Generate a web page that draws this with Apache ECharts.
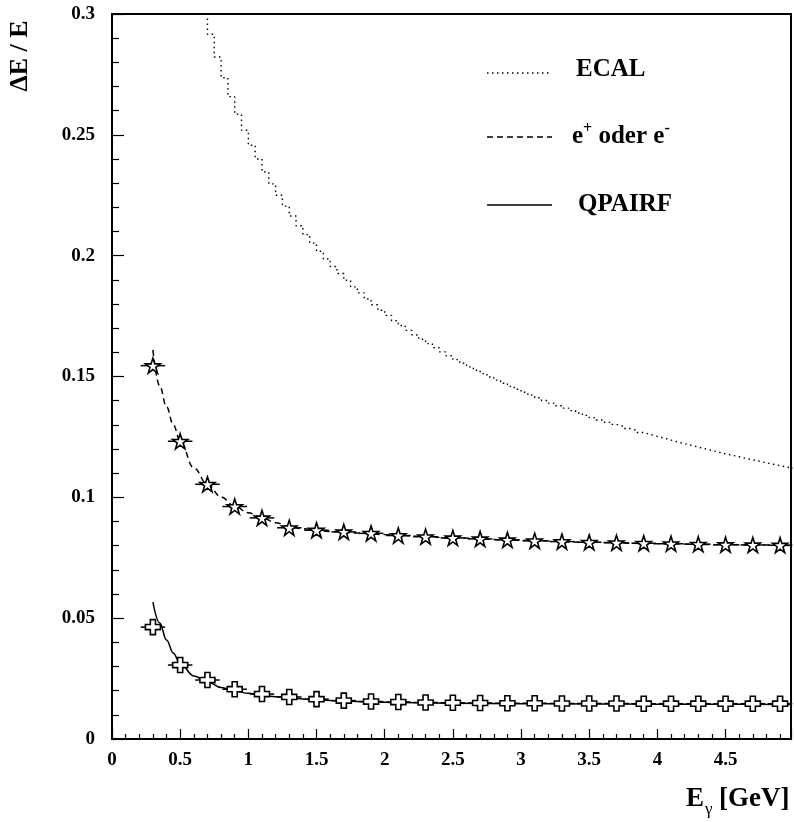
<!DOCTYPE html>
<html>
<head>
<meta charset="utf-8">
<script src="https://cdn.jsdelivr.net/npm/echarts@6/dist/echarts.min.js"></script>
<style>
html,body{margin:0;padding:0;background:#fff;}
#chart{width:794px;height:822px;}
</style>
</head>
<body>
<div id="chart"></div>
<script>
// ---------------- data ----------------
// measured points (bin centres, GeV) with horizontal half-width
var pointX = [0.3,0.5,0.7,0.9,1.1,1.3,1.5,1.7,1.9,2.1,2.3,2.5,2.7,2.9,3.1,3.3,3.5,3.7,3.9,4.1,4.3,4.5,4.7,4.9];
var pointErrX = 0.09;
// e+ oder e- (stars)
var starY = [0.1545,0.1232,0.1054,0.0962,0.0915,0.0874,0.0864,0.0857,0.0851,0.0842,0.0837,0.0832,0.0828,0.0824,0.0820,0.0817,0.0814,0.0812,0.0810,0.0808,0.0806,0.0804,0.0803,0.0802];
// QPAIRF (open crosses)
var plusY = [0.0463,0.0306,0.0244,0.0206,0.0186,0.0174,0.0165,0.0159,0.0155,0.0153,0.0151,0.0150,0.0149,0.0148,0.0148,0.0147,0.0147,0.0147,0.0146,0.0146,0.0146,0.0146,0.0146,0.0146];
// dashed fit curve (e+ oder e-)
var dashX = [0.3,0.35,0.4,0.45,0.5,0.6,0.7,0.8,0.9,1.0,1.1,1.2,1.3,1.4,1.6,1.8,2.0,2.25,2.5,3.0,3.5,4.0,4.5,4.98];
var dashY = [0.161,0.146,0.1375,0.130,0.1232,0.1122,0.1054,0.1002,0.0963,0.0936,0.0916,0.0895,0.0879,0.0870,0.0859,0.0852,0.0846,0.0839,0.0832,0.0822,0.0814,0.0808,0.0804,0.0801];
// solid fit curve (QPAIRF)
var solidX = [0.3,0.35,0.4,0.45,0.5,0.6,0.7,0.8,0.9,1.0,1.1,1.2,1.3,1.5,1.7,1.9,2.1,2.5,3.0,3.5,4.0,4.5,4.98];
var solidY = [0.0566,0.0480,0.0410,0.0355,0.0312,0.0261,0.0237,0.0213,0.0199,0.0189,0.0181,0.0175,0.0170,0.0162,0.0157,0.0153,0.0151,0.0148,0.0146,0.0145,0.0144,0.0144,0.0143];
// ECAL resolution histogram (bins of 0.05 GeV starting at 0; values above 0.3 drawn clipped at 0.3)
var ecalBinStart = 0.0;
var ecalBinWidth = 0.05;
var ecalY = [0.3,0.3,0.3,0.3,0.3,0.3,0.3,0.3,0.3,0.3,0.3,0.3,0.3,0.3,
0.2916,0.2822,0.2736,0.2658,0.2585,0.2519,0.2457,0.2400,0.2347,0.2297,0.2250,0.2205,0.2164,0.2124,0.2087,0.2052,0.2018,0.1986,0.1955,0.1926,
0.1898,0.1871,0.1846,0.1821,0.1797,0.1774,0.1753,0.1731,0.1711,0.1691,0.1672,0.1654,0.1636,0.1619,0.1602,0.1586,0.1570,0.1555,0.1540,0.1526,
0.1512,0.1498,0.1485,0.1472,0.1459,0.1447,0.1435,0.1423,0.1412,0.1401,0.1390,0.1379,0.1369,0.1359,0.1349,0.1339,0.1330,0.1320,0.1311,0.1302,
0.1294,0.1285,0.1277,0.1268,0.1260,0.1252,0.1245,0.1237,0.1229,0.1222,0.1215,0.1208,0.1201,0.1194,0.1187,0.1180,0.1174,0.1168,0.1161,0.1155,
0.1149,0.1143,0.1137,0.1131,0.1125,0.1120];
// axes
var xMin = 0, xMax = 4.98, xStep = 0.5;
var yMin = 0, yMax = 0.3, yStep = 0.05;
var legendNames = ['ECAL', 'e+ oder e-', 'QPAIRF'];

// ---------------- build ----------------
var FONT = '"Liberation Serif","Times New Roman",serif';
var ecalData = [];
for (var i = 0; i < ecalY.length; i++) {
  ecalData.push([ecalBinStart + i * ecalBinWidth, ecalY[i]]);
}
ecalData.push([ecalBinStart + ecalY.length * ecalBinWidth, ecalY[ecalY.length - 1]]);

function zip(a, b) { return a.map(function (v, i) { return [v, b[i]]; }); }
var starData = zip(pointX, starY);
var plusData = zip(pointX, plusY);

var STAR = 'path://M50,0 L61.8,35.4 L99,35.4 L69,57.3 L80.4,93 L50,71 L19.6,93 L31,57.3 L1,35.4 L38.2,35.4 Z';
var PLUS = 'path://M33,0 L67,0 L67,33 L100,33 L100,67 L67,67 L67,100 L33,100 L33,67 L0,67 L0,33 L33,33 Z';

function errRender(params, api) {
  var x = api.value(0), y = api.value(1);
  var p1 = api.coord([x - pointErrX, y]);
  var p2 = api.coord([x + pointErrX, y]);
  return {
    type: 'line',
    shape: { x1: p1[0], y1: p1[1], x2: p2[0], y2: p2[1] },
    style: { stroke: '#000', lineWidth: 1.5 }
  };
}

var chart = echarts.init(document.getElementById('chart'), null, { renderer: 'canvas' });
var labelStyle = { color: '#000', fontFamily: FONT, fontWeight: 'bold', fontSize: 19 };

var option = {
  animation: false,
  backgroundColor: '#fff',
  grid: { left: 112, right: 3, top: 14, bottom: 83, show: true, borderColor: '#000', borderWidth: 2, backgroundColor: 'transparent' },
  xAxis: {
    type: 'value', min: xMin, max: xMax, interval: xStep,
    axisLine: { show: true, lineStyle: { color: '#000', width: 2 } },
    axisTick: { inside: true, length: 10, lineStyle: { color: '#000', width: 1.2 } },
    minorTick: { show: true, splitNumber: 5, length: 5, lineStyle: { color: '#000', width: 1.2 } },
    splitLine: { show: false },
    axisLabel: Object.assign({ margin: 12, showMaxLabel: false }, labelStyle)
  },
  yAxis: {
    type: 'value', min: yMin, max: yMax, interval: yStep,
    axisLine: { show: true, lineStyle: { color: '#000', width: 2 } },
    axisTick: { inside: true, length: 12, lineStyle: { color: '#000', width: 1.2 } },
    minorTick: { show: true, splitNumber: 5, length: 7, lineStyle: { color: '#000', width: 1.2 } },
    splitLine: { show: false },
    axisLabel: Object.assign({ margin: 17 }, labelStyle)
  },
  series: [
    {
      name: legendNames[0], type: 'line', step: 'end', data: ecalData, showSymbol: false, clip: true,
      lineStyle: { color: '#000', width: 1.4, type: [1.5, 3.5] }, z: 2
    },
    {
      name: legendNames[1], type: 'line', data: zip(dashX, dashY), showSymbol: false, smooth: 0.4, smoothMonotone: 'x',
      lineStyle: { color: '#000', width: 1.5, type: [6, 4] }, z: 3
    },
    {
      name: legendNames[2], type: 'line', data: zip(solidX, solidY), showSymbol: false, smooth: 0.4, smoothMonotone: 'x',
      lineStyle: { color: '#000', width: 1.5, type: 'solid' }, z: 3
    },
    { type: 'custom', renderItem: errRender, data: starData, z: 4, silent: true },
    { type: 'custom', renderItem: errRender, data: plusData, z: 4, silent: true },
    {
      type: 'scatter', data: starData, symbol: STAR, symbolSize: 15, z: 5,
      itemStyle: { color: '#fff', borderColor: '#000', borderWidth: 1.6, opacity: 1 }
    },
    {
      type: 'scatter', data: plusData, symbol: PLUS, symbolSize: 15, z: 5,
      itemStyle: { color: '#fff', borderColor: '#000', borderWidth: 1.6, opacity: 1 }
    }
  ],
  graphic: [
    // y axis title
    { type: 'text', x: 20, y: 56, rotation: Math.PI / 2, z: 10,
      style: { text: '\u0394E / E', x: 0, y: 0, align: 'center', verticalAlign: 'middle', fill: '#000', font: 'bold 26px ' + FONT } },
    // x axis title
    { type: 'text', x: 686, y: 799, z: 10,
      style: { text: 'E', align: 'left', verticalAlign: 'middle', fill: '#000', font: 'bold 27px ' + FONT } },
    { type: 'text', x: 705, y: 810, z: 10,
      style: { text: '\u03b3', align: 'left', verticalAlign: 'middle', fill: '#000', font: '17px ' + FONT } },
    { type: 'text', x: 719, y: 799, z: 10,
      style: { text: '[GeV]', align: 'left', verticalAlign: 'middle', fill: '#000', font: 'bold 27px ' + FONT } },
    // legend
    { type: 'line', shape: { x1: 487, y1: 73, x2: 552, y2: 73 }, style: { stroke: '#000', lineWidth: 1.4, lineDash: [1.5, 3.5] } },
    { type: 'text', x: 576, y: 70, style: { text: 'ECAL', align: 'left', verticalAlign: 'middle', fill: '#000', font: 'bold 25px ' + FONT } },
    { type: 'line', shape: { x1: 487, y1: 137, x2: 552, y2: 137 }, style: { stroke: '#000', lineWidth: 1.5, lineDash: [6, 4] } },
    { type: 'text', x: 572, y: 135,
      style: { text: '{m|e}{s|+}{m| oder e}{s|-}', align: 'left', verticalAlign: 'middle', fill: '#000',
        rich: {
          m: { font: 'bold 25px ' + FONT, lineHeight: 28, verticalAlign: 'bottom', fill: '#000' },
          s: { font: 'bold 16px ' + FONT, lineHeight: 28, verticalAlign: 'top', fill: '#000' }
        } } },
    { type: 'line', shape: { x1: 487, y1: 205, x2: 552, y2: 205 }, style: { stroke: '#000', lineWidth: 1.5 } },
    { type: 'text', x: 578, y: 205, style: { text: 'QPAIRF', align: 'left', verticalAlign: 'middle', fill: '#000', font: 'bold 25px ' + FONT } }
  ]
};
chart.setOption(option);
</script>
</body>
</html>
